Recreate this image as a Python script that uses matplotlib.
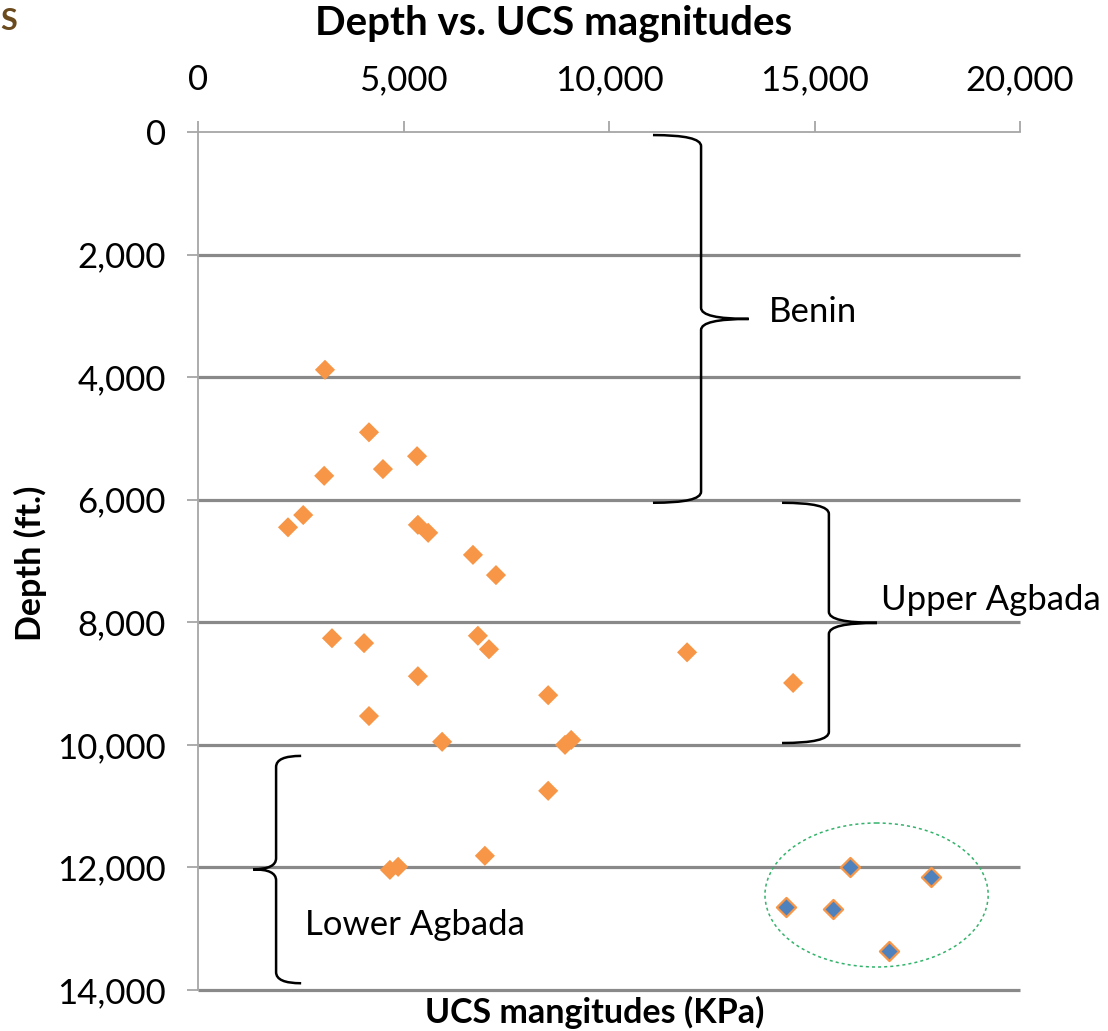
import numpy as np
import matplotlib.pyplot as plt
from matplotlib.path import Path
from matplotlib.patches import PathPatch, Ellipse
from matplotlib.ticker import FuncFormatter

plt.rcParams['font.family'] = ['Lato', 'DejaVu Sans']

# UCS (KPa) vs depth (ft.)
ucs_orange = [3090, 4160, 5330, 4500, 3070, 2560, 2190, 5350, 5600, 6690, 7250,
              3260, 4040, 6810, 7080, 5350, 8520, 4160, 5940, 8930, 9080, 8520,
              11900, 14480, 6980, 4670, 4870]
depth_orange = [3880, 4900, 5290, 5500, 5610, 6250, 6450, 6410, 6540, 6900, 7230,
                8260, 8340, 8220, 8440, 8880, 9190, 9530, 9950, 10000, 9920, 10750,
                8490, 8990, 11810, 12040, 11990]

ucs_blue = [15860, 17830, 14310, 15450, 16810]
depth_blue = [11990, 12160, 12650, 12680, 13360]

x_ticks = [0, 5000, 10000, 15000, 20000]
depth_ticks = [0, 2000, 4000, 6000, 8000, 10000, 12000, 14000]

# formation brackets: name, top, bottom, tip x, spine x, point x, label x, label y
zones = ['Benin', 'Upper Agbada', 'Lower Agbada']
zone_top = [50, 6050, 10180]
zone_bottom = [6050, 9970, 13890]
zone_tip = [11070, 14210, 2510]
zone_spine = [12240, 15350, 1900]
zone_point = [13400, 16520, 1340]
zone_mid = [3050, 8010, 12030]
zone_label_x = [13900, 16620, 2600]
zone_label_y = [2940, 7640, 12940]

# dotted circle round the high-UCS cluster
ell_center = (16510, 12450)
ell_w, ell_h = 5430, 2350

orange = '#F79646'
blue = '#4F81BD'
grid_col = '#898989'
spine_col = '#A6A6A6'


def brace(x_tip, x_sp, x_pt, y0, y1, ym, r=180):
    verts = [(x_tip, y0), (x_sp, y0), (x_sp, y0 + r),
             (x_sp, ym - r), (x_sp, ym), (x_pt, ym),
             (x_sp, ym), (x_sp, ym + r),
             (x_sp, y1 - r), (x_sp, y1), (x_tip, y1)]
    codes = [Path.MOVETO, Path.CURVE3, Path.CURVE3,
             Path.LINETO, Path.CURVE3, Path.CURVE3,
             Path.CURVE3, Path.CURVE3,
             Path.LINETO, Path.CURVE3, Path.CURVE3]
    return Path(verts, codes)


fig = plt.figure(figsize=(11.08, 10.31), dpi=100)
ax = fig.add_axes([198 / 1108, 1 - 990 / 1031, 822 / 1108, 858 / 1031])

ax.set_xlim(0, 20000)
ax.set_ylim(14000, 0)
ax.set_xticks(x_ticks)
ax.set_yticks(depth_ticks)
fmt = FuncFormatter(lambda v, p: '{:,.0f}'.format(v))
ax.xaxis.set_major_formatter(fmt)
ax.yaxis.set_major_formatter(fmt)
ax.xaxis.tick_top()
ax.tick_params(axis='x', direction='out', length=8, width=1.3, color=spine_col,
               pad=18, labelsize=25)
ax.tick_params(axis='y', direction='out', length=8, width=1.3, color=spine_col,
               pad=15, labelsize=25)

for s in ['bottom', 'right']:
    ax.spines[s].set_visible(False)
for s in ['top', 'left']:
    ax.spines[s].set_color(spine_col)
    ax.spines[s].set_linewidth(1.3)

ax.hlines(depth_ticks[1:], 0, 20000, colors=grid_col, linewidth=2.3, zorder=1, clip_on=False)

ax.scatter(ucs_orange, depth_orange, marker='D', s=105, color=orange, edgecolors='none', zorder=3)
ax.scatter(ucs_blue, depth_blue, marker='D', s=95, color=blue, edgecolors=orange,
           linewidths=1.6, zorder=3)

ax.add_patch(Ellipse(ell_center, ell_w, ell_h, fill=False, edgecolor='#33B36B',
                     linewidth=1.1, linestyle=(0, (2, 2)), zorder=2))

for i in range(len(zones)):
    p = brace(zone_tip[i], zone_spine[i], zone_point[i], zone_top[i], zone_bottom[i], zone_mid[i])
    ax.add_patch(PathPatch(p, fill=False, edgecolor='black', linewidth=1.8, zorder=4,
                           clip_on=False))
    ax.text(zone_label_x[i], zone_label_y[i], zones[i], fontsize=25, ha='left', va='center',
            clip_on=False)

fig.text(0.5, 1 - 23 / 1031, 'Depth vs. UCS magnitudes', fontsize=29, fontweight='bold',
         ha='center', va='center')
fig.text(595 / 1108, 1 - 1012 / 1031, 'UCS mangitudes (KPa)', fontsize=24.5, fontweight='bold',
         ha='center', va='center')
fig.text(30 / 1108, 1 - 563 / 1031, 'Depth (ft.)', fontsize=24.5, fontweight='bold',
         ha='center', va='center', rotation=90)
fig.text(0, 1 - 21 / 1031, 'S', fontsize=22, fontweight='bold', color='#6B4A1E',
         ha='left', va='center')

fig.savefig('out.png', dpi=100)
